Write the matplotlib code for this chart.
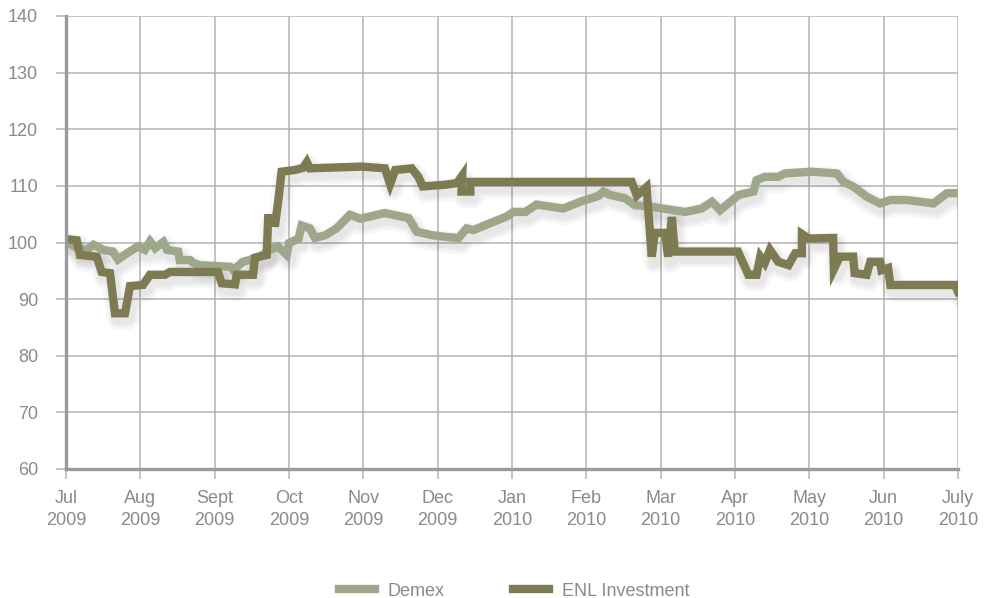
import numpy as np
import matplotlib.pyplot as plt
import matplotlib.transforms as mtransforms

plt.rcParams['font.family'] = ['Liberation Sans', 'DejaVu Sans']

# month ticks (0 = Jul 2009 ... 12 = Jul 2010)
tick_labels = ['Jul\n2009', 'Aug\n2009', 'Sept\n2009', 'Oct\n2009', 'Nov\n2009', 'Dec\n2009',
               'Jan\n2010', 'Feb\n2010', 'Mar\n2010', 'Apr\n2010', 'May\n2010', 'Jun\n2010',
               'July\n2010']

# Demex index, x in months since Jul 2009
demex_x = [0.0, 0.15, 0.28, 0.37, 0.50, 0.63, 0.70, 0.82, 0.97, 1.06, 1.13, 1.20, 1.31, 1.36,
           1.51, 1.53, 1.67, 1.71, 1.80, 2.21, 2.25, 2.38, 2.47, 2.65, 2.74, 2.85, 2.97, 3.00,
           3.13, 3.17, 3.28, 3.35, 3.49, 3.64, 3.82, 3.96, 4.29, 4.61, 4.72, 4.92, 5.10, 5.28,
           5.39, 5.48, 5.93, 6.02, 6.18, 6.33, 6.69, 6.94, 7.16, 7.23, 7.32, 7.52, 7.65, 7.88,
           8.33, 8.55, 8.69, 8.80, 9.05, 9.25, 9.29, 9.40, 9.58, 9.67, 10.03, 10.37, 10.46,
           10.59, 10.77, 10.95, 11.09, 11.31, 11.67, 11.85, 12.0]
demex_y = [100.3, 99.0, 98.7, 99.6, 98.7, 98.4, 97.0, 98.1, 99.3, 98.7, 100.2, 99.0, 100.1, 98.7,
           98.4, 96.9, 96.9, 96.4, 96.0, 95.7, 95.1, 96.6, 96.9, 97.8, 98.7, 99.3, 97.8, 99.9,
           100.7, 103.0, 102.5, 100.8, 101.3, 102.5, 104.9, 104.2, 105.2, 104.3, 101.9, 101.3,
           101.0, 100.8, 102.5, 102.2, 104.6, 105.4, 105.4, 106.7, 106.0, 107.3, 108.2, 109.0,
           108.4, 107.8, 106.6, 106.3, 105.4, 106.0, 107.2, 105.7, 108.4, 109.0, 111.0, 111.6,
           111.6, 112.2, 112.5, 112.2, 110.7, 109.9, 108.1, 106.9, 107.5, 107.5, 106.9, 108.7,
           108.7]

# ENL Investment
enl_x = [0.0, 0.144, 0.188, 0.413, 0.48, 0.592, 0.659, 0.794, 0.861, 1.036, 1.13, 1.332, 1.399,
         2.045, 2.095, 2.274, 2.297, 2.516, 2.543, 2.70, 2.72, 2.80, 2.81, 2.857, 2.90, 3.08,
         3.19, 3.24, 3.28, 3.98, 4.29, 4.36, 4.43, 4.65, 4.74, 4.80, 5.10, 5.26, 5.33, 5.32,
         5.44, 5.44, 7.61, 7.68, 7.81, 7.88, 7.92, 8.06, 8.10, 8.15, 8.19, 9.04, 9.18, 9.29,
         9.34, 9.40, 9.47, 9.58, 9.72, 9.81, 9.90, 9.90, 9.99, 10.32, 10.33, 10.41, 10.59,
         10.61, 10.77, 10.82, 10.95, 10.97, 11.06, 11.09, 11.96, 12.0]
enl_y = [100.6, 100.4, 97.8, 97.5, 94.8, 94.6, 87.5, 87.5, 92.3, 92.5, 94.3, 94.3, 94.8,
         94.8, 92.8, 92.6, 94.3, 94.3, 97.3, 97.8, 104.3, 104.3, 102.8, 107.5, 112.5, 112.8,
         113.2, 114.2, 113.1, 113.4, 113.1, 110.3, 112.8, 113.1, 111.6, 109.9, 110.2, 110.5,
         111.8, 109.0, 109.0, 110.7, 110.7, 108.3, 109.8, 97.5, 101.7, 101.7, 97.5, 104.5,
         98.4, 98.4, 94.3, 94.3, 97.5, 96.4, 98.7, 96.6, 96.0, 98.1, 98.1, 101.5, 100.7,
         100.8, 95.3, 97.5, 97.5, 94.6, 94.3, 96.6, 96.6, 95.1, 95.5, 92.5, 92.5, 91.3]

demex_color = '#9ea78a'
enl_color = '#7e7b52'
grid_color = '#b4b4b4'
text_color = '#8a8a8a'
fs = 13

fig = plt.figure(figsize=(9.89, 5.98), dpi=100)
ax = fig.add_axes([66 / 989, 129 / 598, 892 / 989, 453 / 598])

# soft drop shadow: a few wide faint copies shifted down-right
shift = mtransforms.offset_copy(ax.transData, fig=fig, x=2, y=-4, units='points')
for xs, ys in ((demex_x, demex_y), (enl_x, enl_y)):
    for w in (16, 12, 9):
        ax.plot(xs, ys, color='k', alpha=0.03, lw=w, transform=shift,
                solid_joinstyle='round', solid_capstyle='round', zorder=2)

ax.plot(demex_x, demex_y, color=demex_color, lw=6, solid_joinstyle='miter',
        label='Demex', zorder=3)
ax.plot(enl_x, enl_y, color=enl_color, lw=6, solid_joinstyle='miter',
        label='ENL Investment', zorder=4)

ax.set_xlim(0, 12)
ax.set_ylim(60, 140)
ax.set_xticks(np.arange(13))
ax.set_xticklabels(tick_labels, linespacing=1.4)
ax.set_yticks(np.arange(60, 141, 10))

ax.grid(True, color=grid_color, lw=1.1)
ax.set_axisbelow(True)
for s in ('top', 'right'):
    ax.spines[s].set_visible(False)
for s in ('left', 'bottom'):
    ax.spines[s].set_color('#9a9a9a')
    ax.spines[s].set_linewidth(2.4)
    ax.spines[s].set_zorder(5)

ax.tick_params(axis='both', colors=grid_color, width=1.1, length=7,
               labelcolor=text_color, labelsize=fs)
ax.tick_params(axis='x', pad=8)
ax.tick_params(axis='y', pad=13)

leg = fig.legend(loc='lower center', bbox_to_anchor=(0.52, -0.03), ncol=2, frameon=False,
                 fontsize=fs, handlelength=2.0, handletextpad=0.7, columnspacing=3.8)
for t in leg.get_texts():
    t.set_color(text_color)

fig.savefig('out.png', dpi=100)
